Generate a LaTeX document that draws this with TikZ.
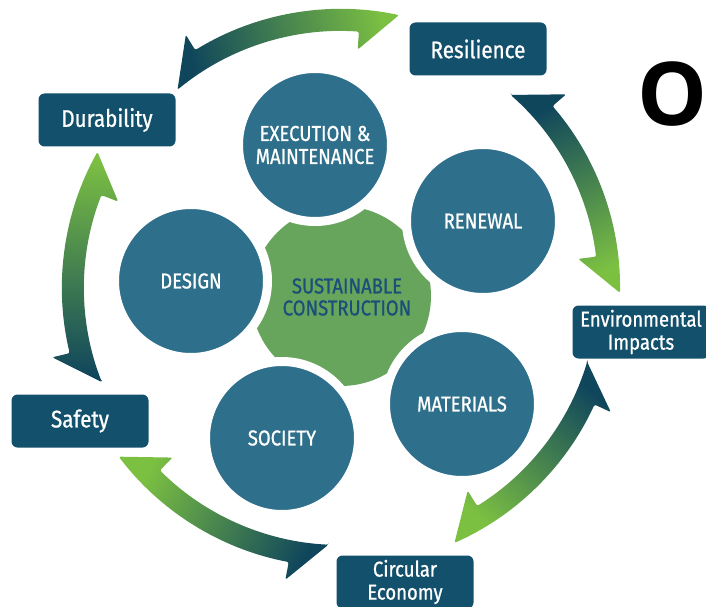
\documentclass[tikz,border=0pt]{standalone}
\usepackage{fontspec}
\setmainfont{Fira Sans}[FakeStretch=0.86, FakeBold=0.9]
\newfontfamily\headfont{Open Sans}
\usepackage{tikz}
\tikzset{>=latex}
\usetikzlibrary{calc}

\definecolor{boxblue}{RGB}{18,80,108}
\definecolor{discblue}{RGB}{46,111,139}
\definecolor{geargreen}{RGB}{103,165,93}
\definecolor{gearink}{RGB}{27,79,122}
\definecolor{arrowdark}{RGB}{16,70,92}
\definecolor{arrowgreen}{RGB}{124,192,66}

\tikzset{
    aspect/.style={rectangle, rounded corners=6pt, fill=boxblue, text=white,
        minimum width=137pt, minimum height=53pt, inner sep=0pt, align=center,
        font=\fontsize{21.5}{23}\selectfont},
    bigaspect/.style={aspect, font=\fontsize{24}{26}\selectfont},
    pillar/.style={circle, fill=discblue, draw=white, line width=9pt,
        minimum size=153pt, inner sep=0pt, align=center, text=white,
        font=\fontsize{21.5}{23}\selectfont},
}

% ring arrow from angle #1 (dark end) clockwise to angle #2 (green end)
\newcommand{\ringarrow}[2]{%
    \pgfmathsetmacro{\hA}{#1-8}
    \pgfmathsetmacro{\hB}{#2+8}
    \pgfmathsetmacro{\shA}{(#1+#2)/2-180}
    \shade[top color=arrowgreen, bottom color=arrowdark, shading angle=\shA,
        rounded corners=2pt]
        (#1:257pt) -- (\hA:297pt) -- (\hA:279pt)
        arc[start angle=\hA, end angle=#2, radius=279pt]
        -- (\hB:239pt) -- (\hB:257pt)
        arc[start angle=\hB, end angle=#1, radius=257pt] -- cycle;
}

\begin{document}
\begin{tikzpicture}[x=1pt, y=1pt]
    \useasboundingbox (0,0) rectangle (706,606);
    \coordinate (C) at (341,318);
    \coordinate (G) at (341,310);

    % Ring arrows
    \begin{scope}[shift={(C)}]
        \ringarrow{129.5}{78}
        \ringarrow{48.7}{-1}
        \ringarrow{-16.7}{-66}
        \ringarrow{-92.8}{-142.8}
        \ringarrow{201.5}{150.8}
    \end{scope}

    % Gear
    \fill[geargreen] (G) circle (90pt);
    \node[text=gearink, align=center, font=\fontsize{21.5}{22}\selectfont] (core) at (347,309) {SUSTAINABLE\\CONSTRUCTION};

    % Pillars
    \node[pillar] (exe) at (315,461) {EXECUTION \&\\MAINTENANCE};
    \node[pillar] (ren) at (483,385) {RENEWAL};
    \node[pillar] (des) at (191,325) {DESIGN};
    \node[pillar] (soc) at (282,168) {SOCIETY};
    \node[pillar] (mat) at (462,202) {MATERIALS};

    % Aspects
    \node[bigaspect] (res) at (478,557) {Resilience};
    \node[bigaspect] (dur) at (107,486) {Durability};
    \node[bigaspect] (saf) at (80,185) {Safety};
    \node[aspect] (env) at (641,274) {Environmental\\Impacts};
    \node[aspect] (circ) at (405,24) {Circular\\Economy};

    % Title letter
    \node[anchor=base west, inner sep=0pt, font=\headfont\bfseries\fontsize{88}{88}\selectfont] (title) at (637,480) {O};
\end{tikzpicture}
\end{document}
